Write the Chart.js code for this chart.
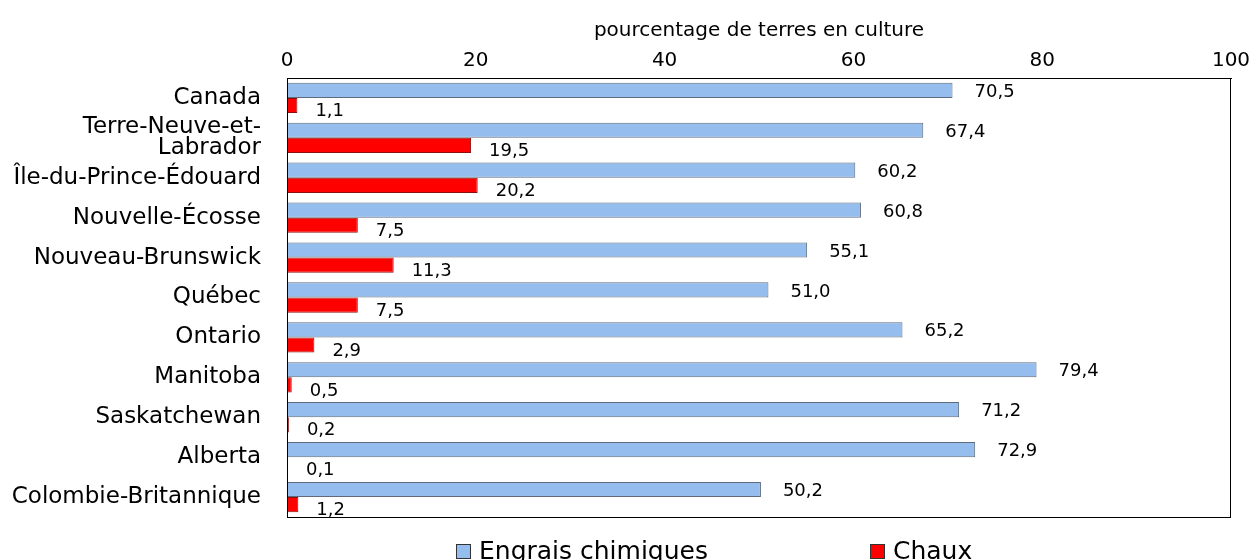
<!DOCTYPE html>
<html>
<head>
<meta charset="utf-8">
<script src="https://cdn.jsdelivr.net/npm/chart.js@4.4.0/dist/chart.umd.min.js"></script>
<style>
  html, body { margin: 0; padding: 0; background: #fff; overflow: hidden; }
  #wrap { position: relative; width: 1258px; height: 560px; overflow: hidden; }
  #legend { position: absolute; top: 536px; left: 0; width: 1258px; height: 30px;
    font-family: "DejaVu Sans", sans-serif; font-size: 25px; line-height: 30px; color: #000; }
  .item { position: absolute; top: 0; display: flex; align-items: center; height: 30px; }
  .box { width: 15px; height: 15px; border: 1px solid #333; margin-right: 8px; box-sizing: border-box; }
</style>
</head>
<body>
<div id="wrap">
  <canvas id="chart" width="1258" height="560"></canvas>
  <div id="legend"></div>
</div>
<script>
const provinces = [
  "Canada",
  ["Terre-Neuve-et-", "Labrador"],
  "Île-du-Prince-Édouard",
  "Nouvelle-Écosse",
  "Nouveau-Brunswick",
  "Québec",
  "Ontario",
  "Manitoba",
  "Saskatchewan",
  "Alberta",
  "Colombie-Britannique"
];
const engrais = [70.5, 67.4, 60.2, 60.8, 55.1, 51.0, 65.2, 79.4, 71.2, 72.9, 50.2];
const chaux = [1.1, 19.5, 20.2, 7.5, 11.3, 7.5, 2.9, 0.5, 0.2, 0.1, 1.2];
const xTicks = [0, 20, 40, 60, 80, 100];

const FONT = "'DejaVu Sans', sans-serif";

const valueLabels = {
  id: "valueLabels",
  afterDatasetsDraw(chart) {
    const ctx = chart.ctx;
    ctx.save();
    ctx.font = "18px " + FONT;
    ctx.fillStyle = "#000";
    ctx.textAlign = "left";
    ctx.textBaseline = "middle";
    chart.data.datasets.forEach((ds, i) => {
      const meta = chart.getDatasetMeta(i);
      meta.data.forEach((el, j) => {
        const txt = ds.data[j].toFixed(1).replace(".", ",");
        ctx.fillText(txt, el.x + (i === 0 ? 22 : 18), el.y + (i === 0 ? 2 : 6));
      });
    });
    ctx.restore();
  }
};

const frame = {
  id: "frame",
  afterDraw(chart) {
    const { ctx, chartArea: a } = chart;
    ctx.save();
    ctx.strokeStyle = "#000";
    ctx.lineWidth = 1;
    ctx.strokeRect(a.left + 0.5, a.top + 0.5, a.right - a.left - 1, a.bottom - a.top);
    ctx.restore();
  }
};

const chart = new Chart(document.getElementById("chart"), {
  type: "bar",
  data: {
    labels: provinces,
    datasets: [
      {
        label: "Engrais chimiques",
        data: engrais,
        backgroundColor: "#95bdee",
        borderColor: "#5f6b7a",
        borderWidth: 1,
        borderSkipped: false
      },
      {
        label: "Chaux",
        data: chaux,
        backgroundColor: "#ff0000",
        borderColor: "#8a1010",
        borderWidth: 1,
        borderSkipped: false
      }
    ]
  },
  options: {
    indexAxis: "y",
    responsive: false,
    animation: false,
    layout: { padding: { top: 16, right: 27, left: 0, bottom: 43 } },
    datasets: { bar: { categoryPercentage: 0.76, barPercentage: 1 } },
    plugins: {
      legend: { display: false },
      tooltip: { enabled: false }
    },
    scales: {
      x: {
        position: "top",
        min: 0,
        max: 100,
        afterBuildTicks: (s) => { s.ticks = xTicks.map((v) => ({ value: v })); },
        grid: { display: false, drawTicks: false },
        border: { display: true, color: "#000" },
        ticks: { color: "#000", font: { family: FONT, size: 20 }, padding: 5 },
        title: {
          display: true,
          text: "pourcentage de terres en culture",
          color: "#000",
          font: { family: FONT, size: 20 },
          padding: { top: 3, bottom: 4 }
        },
        afterFit: (s) => { s.height = 62; }
      },
      y: {
        grid: { display: false, drawTicks: false },
        border: { display: true, color: "#000" },
        ticks: {
          autoSkip: false,
          color: "#000",
          font: { family: FONT, size: 23, lineHeight: 0.92 },
          padding: 26
        },
        afterFit: (s) => { s.width = 287; }
      }
    }
  },
  plugins: [valueLabels, frame]
});

// legend built from the datasets
const legend = document.getElementById("legend");
const legendX = [456, 870];
chart.data.datasets.forEach((ds, i) => {
  const item = document.createElement("div");
  item.className = "item";
  item.style.left = legendX[i] + "px";
  const box = document.createElement("span");
  box.className = "box";
  box.style.background = ds.backgroundColor;
  const label = document.createElement("span");
  label.textContent = ds.label;
  item.appendChild(box);
  item.appendChild(label);
  legend.appendChild(item);
});
</script>
</body>
</html>
